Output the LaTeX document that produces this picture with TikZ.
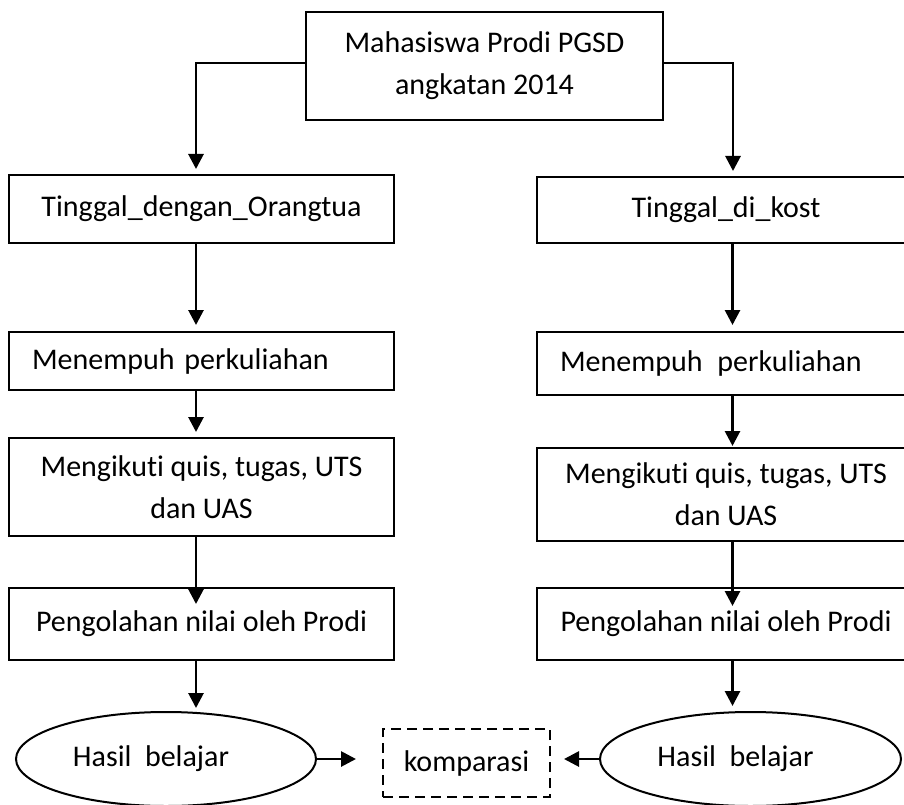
\documentclass[tikz,border=0pt]{standalone}
\usepackage{fontspec}
\setmainfont[Ligatures=CommonOff]{Carlito}
\usetikzlibrary{arrows.meta}
\usetikzlibrary{shapes.geometric}

\begin{document}
\begin{tikzpicture}[x=1pt, y=-1pt, >={Triangle[length=15pt,width=15pt]},
    box/.style={draw, line width=2pt, inner sep=0pt, align=center,
      font=\fontsize{30}{42}\selectfont},
    oval/.style={ellipse, draw, line width=2pt, inner sep=0pt,
      minimum width=300pt, minimum height=94pt,
      font=\fontsize{30}{42}\selectfont},
    dashbox/.style={box, dash pattern=on 10pt off 6pt},
    arr/.style={->, line width=2.8pt}]
  \useasboundingbox (0,0) rectangle (904,805);

  % Top box
  \node[box, minimum width=357pt, minimum height=108pt] (mhs) at (484.5,66)
    {Mahasiswa Prodi PGSD\\angkatan 2014};

  % Left column
  \node[box, minimum width=385pt, minimum height=68pt] (ortu) at (201.5,209)
    {Tinggal\_dengan\_Orangtua};
  \node[box, align=left, text width=339pt, inner xsep=23pt, minimum height=58pt]
    (kuliahL) at (201.5,361) {Menempuh perkuliahan};
  \node[box, minimum width=385pt, minimum height=98pt] (ujianL) at (201.5,487)
    {Mengikuti quis, tugas, UTS\\dan UAS};
  \node[box, minimum width=385pt, minimum height=72pt] (nilaiL) at (201.5,624)
    {Pengolahan nilai oleh Prodi};
  \node[oval] (hasilL) at (166,759) {Hasil\ \ belajar\hspace*{30pt}};

  % Right column
  \node[box, minimum width=378pt, minimum height=66pt] (kost) at (726,210)
    {Tinggal\_di\_kost};
  \node[box, align=left, text width=332pt, inner xsep=23pt, minimum height=63pt]
    (kuliahR) at (726,363.5) {Menempuh\ \,perkuliahan};
  \node[box, minimum width=378pt, minimum height=93pt] (ujianR) at (726,494.5)
    {Mengikuti quis, tugas, UTS\\dan UAS};
  \node[box, minimum width=378pt, minimum height=72pt] (nilaiR) at (726,624)
    {Pengolahan nilai oleh Prodi};
  \node[oval, minimum width=301pt] (hasilR) at (750.5,759)
    {Hasil\ \ belajar\hspace*{30pt}};

  % Comparison in the middle
  \node[dashbox, minimum width=167pt, minimum height=68pt] (komparasi)
    at (466.5,763) {komparasi};

  % Split from the top box
  \draw[arr, shorten >=5pt] ([yshift=3pt]mhs.west) -| ([xshift=-5.5pt]ortu.north);
  \draw[arr, shorten >=5pt] ([yshift=3pt]mhs.east) -| ([xshift=7pt]kost.north);

  % Down each column
  \foreach \a/\b/\s in {ortu/kuliahL/6pt, kuliahL/ujianL/5pt,
      ujianL/nilaiL/-17pt, nilaiL/hasilL/3pt}
    \draw[arr, shorten >=\s] ([xshift=-5.5pt]\a.south)
      -- ([xshift=-5.5pt]\a.south |- \b.north);
  \foreach \a/\b/\s in {kost/kuliahR/6pt, kuliahR/ujianR/1pt,
      ujianR/nilaiR/-19pt, nilaiR/hasilR/5pt}
    \draw[arr, shorten >=\s] ([xshift=6.5pt]\a.south)
      -- ([xshift=6.5pt]\a.south |- \b.north);

  % Both results go to the comparison
  \draw[arr, shorten >=26pt] (hasilL.east) -- (hasilL.east -| komparasi.west);
  \draw[arr, shorten >=13pt] (hasilR.west) -- (hasilR.west -| komparasi.east);
\end{tikzpicture}
\end{document}
